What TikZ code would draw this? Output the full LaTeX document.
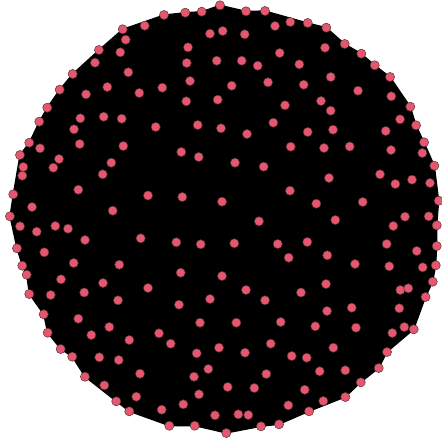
\documentclass[tikz,border=0pt]{standalone}
\definecolor{nodepink}{HTML}{E6566E}
\definecolor{rimgray}{HTML}{4A3035}
\tikzset{
  vtx/.style={circle, minimum size=9.2pt, inner sep=0pt, fill=nodepink, draw=rimgray, line width=0.45pt},
  mass/.style={fill=black, draw=black, line width=1.2pt, line join=round}
}
\begin{document}
\begin{tikzpicture}[x=1pt,y=-1pt]
\useasboundingbox (0,0) rectangle (441,441);
% dense edge mass (convex hull of the vertices)
\path[mass] (220,5.3)--(246,11.3)--(265,11)--(307.7,23)--(326.3,27.7)--(344.7,44)--(361.3,53.7)--(374.7,65.3)--(390,77)--(410.3,106.7)--(416,125.3)--(424,142.3)--(434.3,165.7)--(438.7,200.7)--(436.7,225.3)--(436.7,246)--(435.7,265.3)--(432.7,281.7)--(425.5,297)--(413.7,329.3)--(387,352)--(378.7,368)--(360.7,382.3)--(345.3,397)--(309,411.3)--(279,424.3)--(261,426.3)--(226.3,433)--(194.7,425.7)--(169.3,425.7)--(129.3,411.3)--(116.3,401.3)--(85,376.7)--(72.3,356.7)--(60.7,349)--(47.7,332.7)--(43.7,314.3)--(29.3,294)--(26.7,274.7)--(22.3,265.7)--(17,248.3)--(10,216.3)--(13.3,194.3)--(20,155)--(29.3,142.7)--(39.3,121.7)--(47.3,107.7)--(59.7,89.7)--(72.7,74)--(99,50)--(122.7,29.3)--(164,15)--(185.3,12.7)--(201.7,11.7)--cycle;
% vertices
\foreach \p [count=\i] in {
(122.7,29.3),(144.7,25.7),(125.7,39.7),(99,50),(120.3,52.3),(95,62.7),(128.3,72.3),(72.7,74),(107.3,87),(59.7,89.7),(86,94.3),(139.3,93),(47.3,107.7),(80.3,118.3),(103.7,116.7),(121.7,118.7),(39.3,121.7),(74,129.3),(29.3,142.7),(79.7,144),(123.3,146),(40,148.3),
(164,15),(185.3,12.7),(201.7,11.7),(220,5.3),(246,11.3),(265,11),(290.3,22),(275,26),(210,33.7),(222.7,31),(244.7,34.3),(188,47.3),(279.7,53),(186.7,63),(216.7,60.7),(241.7,60.7),(257.7,65.7),(190,81),(162.3,87.7),(231.7,85.7),(268,82.3),(186.3,101.3),(217.7,99.7),(285,105.3),(155.7,127),(197.7,125),(221,128.3),(273.3,122.7),(247,134),(290.7,146.7),(181.3,152),
(307.7,23),(326.3,27.7),(325,47.7),(344.7,44),(361.3,53.7),(299.3,64.3),(374.7,65.3),(330.7,77),(390,77),(303.7,84.7),(358,90.7),(321,101),(391.3,96.3),(330.7,110.7),(410.3,106.7),(400,119.3),(416,125.3),(307.7,132),(333,129.7),(385.7,131),(424,142.3),(324,148),(349.7,146.5),(391,150),
(20,155),(59,159),(23.3,167),(53.3,167.7),(111.3,162.7),(22.3,175.7),(102.7,174.3),(78.3,189.7),(13.3,194.3),(148,195.5),(32,207),(112.7,210.7),(10,216.3),(20,226.3),(55.3,226),(68,228.7),(36.7,231.7),(85,240),(140.7,238.3),(17,248.3),(44.3,252.3),(73.7,263),(119.3,264.7),(22.3,265.7),(26.7,274.7),(61,279.3),(103,283),(148,288),(29.3,294),(50.7,295),(84.2,292.5),
(198.7,157),(235,162.7),(263.7,166.7),(182.3,197),(222,201.7),(290,190.7),(259,221.3),(176.3,242.3),(200.7,244.3),(234.3,243.3),(277.7,244),(288.7,257.7),(180.7,272.7),(222,276),(246,290),
(422.3,153),(434.3,165.7),(380,174.3),(412,179.7),(430,183),(329,178),(395.3,184),(316.3,203.7),(362.7,202),(438.7,200.7),(335.3,220),(405,216.7),(428.7,216.3),(393.3,226),(436.7,225.3),(307.3,242),(386.7,244),(436.7,246),(327.3,255.3),(416.7,251),(355,264),(389.3,266.3),(422.7,267.3),(435.7,265.3),(326,284),(432.7,281.7),(301,292.5),(400.3,290),(408.3,288.3),
(118,300.3),(43.7,314.3),(78.3,318.7),(109.3,327),(47.7,332.7),(91.3,335),(129.3,340),(60.7,349),(72.3,356.7),(99.3,357.3),(118.7,360),(140,373.7),(85,376.7),(104.3,385.3),(136.3,396.7),(116.3,401.3),(129.3,411.3),
(210,299),(179,304.7),(265,300.3),(200,322.7),(236.3,322.7),(280.7,322),(159,333.3),(170.7,343.7),(270.7,343.7),(219,347.7),(196.7,353.3),(245,352.7),(291.7,356),(208.3,369),(194,376.7),(266.3,374),(227.7,387),(254.3,388),(199,394.3),(183.3,404.3),(288.3,405.3),(161.7,409.7),(215,415.3),(238.3,414.3),(248.3,415),(169.3,425.7),(194.7,425.7),(226.3,433),(261,426.3),(279,424.3),
(425.5,297),(327,311),(351.7,307.7),(399.3,308.3),(315.3,326.3),(356,327.7),(392.3,333),(404.3,327),(413.7,329.3),(333.3,347.7),(306.7,357.7),(387,352),(319.7,371.3),(345.3,370.3),(378.7,368),(304.7,389.7),(360.7,382.3),(323.3,401),(345.3,397),(309,411.3)
}
  \node[vtx] (v\i) at \p {};
\end{tikzpicture}
\end{document}
